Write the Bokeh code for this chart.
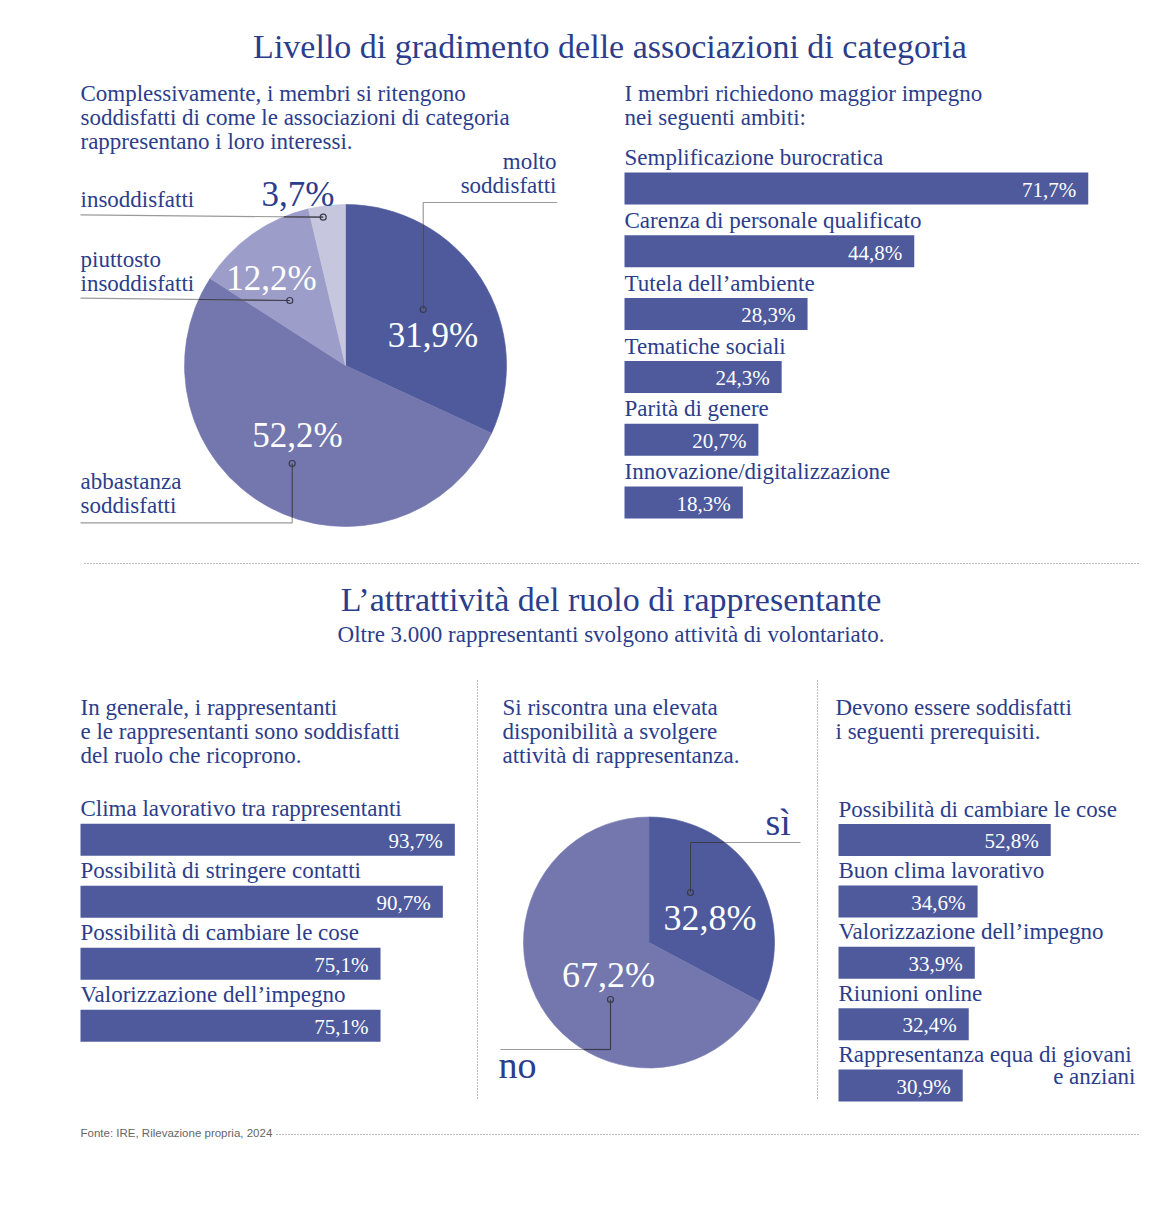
import numpy as np
from bokeh.plotting import figure
from bokeh.models import Range1d, ColumnDataSource
from bokeh.core.properties import value
from bokeh.embed import file_html
from bokeh.resources import INLINE

# ---------------- data ----------------
title1 = "Livello di gradimento delle associazioni di categoria"

intro_pie1 = ["Complessivamente, i membri si ritengono",
              "soddisfatti di come le associazioni di categoria",
              "rappresentano i loro interessi."]
pie1_labels = ["molto\nsoddisfatti", "abbastanza\nsoddisfatti",
               "piuttosto\ninsoddisfatti", "insoddisfatti"]
pie1_values = [31.9, 52.2, 12.2, 3.7]

intro_bars1 = ["I membri richiedono maggior impegno", "nei seguenti ambiti:"]
bars1_labels = ["Semplificazione burocratica", "Carenza di personale qualificato",
                "Tutela dell\u2019ambiente", "Tematiche sociali", "Parit\u00e0 di genere",
                "Innovazione/digitalizzazione"]
bars1_values = [71.7, 44.8, 28.3, 24.3, 20.7, 18.3]

title2 = "L\u2019attrattivit\u00e0 del ruolo di rappresentante"
subtitle2 = "Oltre 3.000 rappresentanti svolgono attivit\u00e0 di volontariato."

intro_bars2 = ["In generale, i rappresentanti",
               "e le rappresentanti sono soddisfatti",
               "del ruolo che ricoprono."]
bars2_labels = ["Clima lavorativo tra rappresentanti", "Possibilit\u00e0 di stringere contatti",
                "Possibilit\u00e0 di cambiare le cose", "Valorizzazione dell\u2019impegno"]
bars2_values = [93.7, 90.7, 75.1, 75.1]

intro_pie2 = ["Si riscontra una elevata", "disponibilit\u00e0 a svolgere",
              "attivit\u00e0 di rappresentanza."]
pie2_labels = ["s\u00ec", "no"]
pie2_values = [32.8, 67.2]

intro_bars3 = ["Devono essere soddisfatti", "i seguenti prerequisiti."]
bars3_labels = ["Possibilit\u00e0 di cambiare le cose", "Buon clima lavorativo",
                "Valorizzazione dell\u2019impegno", "Riunioni online",
                "Rappresentanza equa di giovani\ne anziani"]
bars3_values = [52.8, 34.6, 33.9, 32.4, 30.9]

source_note = "Fonte: IRE, Rilevazione propria, 2024"

# ---------------- style ----------------
W, H = 1154, 1190
OFF = 0
SERIF = value("Liberation Serif")
SANS = value("Liberation Sans")
TXT = "#2b3d8b"
BAR = "#4e5a9c"
PIE1_COLORS = ["#4e5a9c", "#7377ae", "#9c9dc9", "#c6c6df"]
PIE2_COLORS = ["#4e5a9c", "#7377ae"]
GRAY = "#9a9a9a"
DARK = "#3a3a4a"
DOT = "#7a7a7a"
DASH = "1 2"
BODY = 23
LH = 24
BL = 0.32  # baseline correction factor (fraction of font size)

p = figure(width=W, height=H, x_range=Range1d(OFF, OFF + W), y_range=Range1d(OFF + H, OFF),
           output_backend="svg", toolbar_location=None, tools="",
           x_axis_location=None, y_axis_location=None, min_border=0)
p.grid.visible = False
p.outline_line_color = None
p.background_fill_color = "white"


def fmt(v):
    return f"{v:.1f}".replace(".", ",") + "%"


def text(x, y, s, size, color=TXT, align="left", font=SERIF):
    p.text(x=[x], y=[y], text=[s], text_font=font, text_font_size=f"{size}px",
           text_color=color, text_align=align, text_baseline="alphabetic",
           y_offset=-BL * size)


def block(x, y, lines, size=BODY, lh=LH, **kw):
    for i, s in enumerate(lines):
        text(x, y + i * lh, s, size, **kw)


def bar_panel(name, labels, values, x0, k, y0, step, bar_h=32, lab_dy=-23.5,
              val_dy=8, val_dx=-12, val_size=21):
    xr = Range1d((OFF - x0) / k, (OFF + W - x0) / k)
    yr = Range1d((OFF + H - y0) / step, (OFF - y0) / step)
    p.extra_x_ranges = {**p.extra_x_ranges, name: xr}
    p.extra_y_ranges = {**p.extra_y_ranges, name: yr}
    idx = list(range(len(values)))
    first = [lab.split("\n")[0] for lab in labels]
    src = ColumnDataSource(dict(row=idx, val=values, lab=first,
                                txt=[fmt(v) for v in values]))
    kw = dict(source=src, x_range_name=name, y_range_name=name)
    p.hbar(y="row", left=0, right="val", height=bar_h / step, fill_color=BAR,
           line_color=None, **kw)
    p.text(x=0, y="row", text="lab", y_offset=lab_dy - BL * BODY, text_font=SERIF,
           text_font_size=f"{BODY}px", text_color=TXT, text_baseline="alphabetic", **kw)
    p.text(x="val", y="row", text="txt", x_offset=val_dx, y_offset=val_dy - BL * val_size,
           text_align="right", text_font=SERIF, text_font_size=f"{val_size}px",
           text_color="white", text_baseline="alphabetic", **kw)


def pie(values, colors, cx, cy, r):
    v = np.array(values, float)
    f = v / v.sum()
    cum = np.cumsum(f)
    startf = cum - f
    start = np.deg2rad(90 - 360 * cum)
    end = np.deg2rad(90 - 360 * startf)
    src = ColumnDataSource(dict(s=start, e=end, c=colors))
    p.wedge(x=cx, y=cy, radius=r, radius_units="screen", start_angle="s", end_angle="e",
            direction="anticlock", fill_color="c", line_color="c", line_width=0.6,
            source=src)


def leader(pts, cx, cy, r):
    xs = [q[0] for q in pts]
    ys = [q[1] for q in pts]
    p.line(xs, ys, line_color=GRAY, line_width=1.2)
    for (x1, y1), (x2, y2) in zip(pts[:-1], pts[1:]):
        dx, dy = x2 - x1, y2 - y1
        fx, fy = x1 - cx, y1 - cy
        a = dx * dx + dy * dy
        b = 2 * (fx * dx + fy * dy)
        c = fx * fx + fy * fy - r * r
        disc = b * b - 4 * a * c
        if disc <= 0:
            continue
        sq = np.sqrt(disc)
        t0 = max(0.0, (-b - sq) / (2 * a))
        t1 = min(1.0, (-b + sq) / (2 * a))
        if t1 > t0:
            p.line([x1 + t0 * dx, x1 + t1 * dx], [y1 + t0 * dy, y1 + t1 * dy],
                   line_color=DARK, line_width=1.2)
    ex, ey = pts[-1]
    p.scatter([ex], [ey], marker="circle", size=6, fill_color=None,
              line_color=DARK, line_width=1.2)


# ---------------- top section ----------------
text(609.5, 56.5, title1, 34, align="center")
block(80, 100, intro_pie1)
block(624, 100, intro_bars1)

# pie 1
C1 = (345, 365)
R1 = 161
pie(pie1_values, PIE1_COLORS, C1[0], C1[1], R1)

pie1_val_pos = [(432.5, 346), (297, 446), (271, 289), (297.5, 205)]
pie1_val_col = ["white", "white", "white", TXT]
for v, (x, y), col in zip(pie1_values, pie1_val_pos, pie1_val_col):
    text(x, y, fmt(v), 35, color=col, align="center")

pie1_lab_pos = [(556, 168, "right"), (80, 488, "left"), (80, 266, "left"), (80, 206, "left")]
for lab, (x, y, al) in zip(pie1_labels, pie1_lab_pos):
    block(x, y, lab.split("\n"), align=al)

pie1_leaders = [
    [(556.7, 202), (422.7, 202), (422.7, 309)],
    [(80, 522.3), (291.7, 522.3), (291.7, 463)],
    [(80, 297.7), (289.3, 300)],
    [(80, 214.3), (322.7, 216.7)],
]
for pts in pie1_leaders:
    leader(pts, C1[0], C1[1], R1)

# bars top right
bar_panel("b1", bars1_labels, bars1_values, x0=624, k=6.468, y0=188, step=62.8)

# separator
p.line([84, 1140], [563, 563], line_color=DOT, line_width=1, line_dash=DASH)

# ---------------- bottom section ----------------
text(610.5, 610, title2, 34, align="center")
text(610.5, 641, subtitle2, BODY, align="center")

p.line([477, 477], [680, 1098], line_color=DOT, line_width=1, line_dash=DASH)
p.line([817, 817], [680, 1098], line_color=DOT, line_width=1, line_dash=DASH)

block(80, 714, intro_bars2)
block(502, 714, intro_pie2)
block(835, 714, intro_bars3)

bar_panel("b2", bars2_labels, bars2_values, x0=80, k=3.995, y0=839.3, step=62.0)
bar_panel("b3", bars3_labels, bars3_values, x0=838, k=4.02, y0=839.5, step=61.4)
# continuation line of the last label in panel 3 (right aligned)
extra = bars3_labels[-1].split("\n")[1:]
block(1135, 1083.5, extra, align="right")

# pie 2
C2 = (648.5, 942)
R2 = 125.5
pie(pie2_values, PIE2_COLORS, C2[0], C2[1], R2)
pie2_val_pos = [(709.5, 929), (608, 986)]
for v, (x, y) in zip(pie2_values, pie2_val_pos):
    text(x, y, fmt(v), 36, color="white", align="center")
pie2_lab_pos = [(765, 834), (498, 1077)]
for lab, (x, y) in zip(pie2_labels, pie2_lab_pos):
    text(x, y, lab, 38)
pie2_leaders = [
    [(800, 842), (690, 842), (690, 892)],
    [(500, 1049), (610, 1049), (610, 999)],
]
for pts in pie2_leaders:
    leader(pts, C2[0], C2[1], R2)

# footer
text(80, 1136, source_note, 11.5, color="#666666", font=SANS)
p.line([276, 1140], [1134, 1134], line_color=DOT, line_width=1, line_dash=DASH)

open("out.html", "w").write(file_html(p, INLINE))
